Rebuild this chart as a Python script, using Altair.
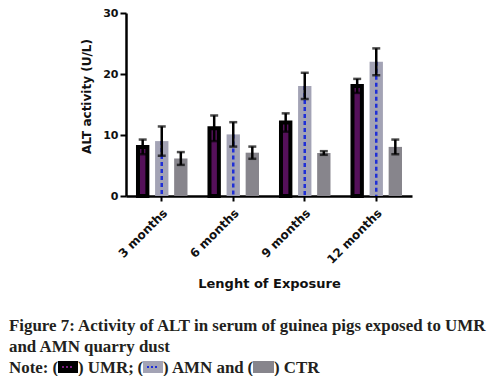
import altair as alt
import pandas as pd

months = ["3 months", "6 months", "9 months", "12 months"]
series = ["UMR", "AMN", "CTR"]
umr = [8.05, 11.1, 12.05, 18.05]
umr_err = [1.2, 2.1, 1.5, 1.15]
amn = [9.0, 10.1, 18.05, 22.0]
amn_err = [2.4, 2.0, 2.15, 2.2]
ctr = [6.15, 7.1, 7.05, 8.05]
ctr_err = [1.05, 1.0, 0.3, 1.2]

rows = []
for s, vals, errs in [("UMR", umr, umr_err), ("AMN", amn, amn_err), ("CTR", ctr, ctr_err)]:
    for m, v, e in zip(months, vals, errs):
        rows.append({"month": m, "series": s, "value": v, "lo": v - e, "hi": v + e})
df = pd.DataFrame(rows)

FONT = "DejaVu Sans"
SERIF = "Liberation Serif"
CAP_COLOR = "#231f20"

x_enc = alt.X("month:N", sort=months,
              scale=alt.Scale(paddingInner=0.2, paddingOuter=0.1),
              axis=alt.Axis(title="Lenght of Exposure", labelAngle=-45,
                            labelFont=FONT, labelFontWeight="bold", labelFontSize=12,
                            labelColor="#111", labelPadding=6,
                            titleFont=FONT, titleFontWeight="bold", titleFontSize=13,
                            titleColor="#111", titlePadding=12,
                            domainColor="#000", domainWidth=2.5,
                            tickColor="#000", tickWidth=2, tickSize=5))
xo_enc = alt.XOffset("series:N", sort=series,
                     scale=alt.Scale(domain=series, paddingInner=0.3, paddingOuter=0.15))
y_scale = alt.Scale(domain=[0, 30], nice=False)
y_axis = alt.Axis(title="ALT activity (U/L)", values=[0, 10, 20, 30], grid=False,
                  labelFont=FONT, labelFontWeight="bold", labelFontSize=11,
                  labelColor="#111", labelPadding=2,
                  titleFont=FONT, titleFontWeight="bold", titleFontSize=12,
                  titleColor="#111", titlePadding=9, titleY=83,
                  domainColor="#000", domainWidth=2.5,
                  tickColor="#000", tickWidth=2, tickSize=6)


def y_of(field):
    return alt.Y(field, type="quantitative", scale=y_scale, axis=y_axis)


base = alt.Chart(df)

other_bars = base.transform_filter(alt.datum.series != "UMR").mark_bar().encode(
    x=x_enc, xOffset=xo_enc, y=y_of("value"),
    color=alt.Color("series:N", scale=alt.Scale(domain=["AMN", "CTR"], range=["#a3a3b5", "#87858c"]),
                    legend=None))

umr_bars = base.transform_filter(alt.datum.series == "UMR").mark_bar(
    fill="#55105a", stroke="#000", strokeWidth=4, width=9.4
).encode(x=x_enc, xOffset=xo_enc, y=y_of("value"))

amn_dash = base.transform_filter(alt.datum.series == "AMN").mark_rule(
    color="#1f2fd6", strokeWidth=2.5, strokeDash=[4, 3]
).encode(x=x_enc, xOffset=xo_enc, y=y_of("value"), y2=alt.datum(0))

err_rule = base.mark_rule(color="#000", strokeWidth=2.5).encode(
    x=x_enc, xOffset=xo_enc, y=y_of("lo"), y2="hi:Q")
cap_hi = base.mark_tick(orient="horizontal", color="#000", size=8, thickness=2.5).encode(
    x=x_enc, xOffset=xo_enc, y=y_of("hi"))
cap_lo = base.mark_tick(orient="horizontal", color="#000", size=8, thickness=2.5).encode(
    x=x_enc, xOffset=xo_enc, y=y_of("lo"))

one = pd.DataFrame({"k": [0]})


def txt(s, x, y, align="left"):
    return alt.Chart(one).mark_text(text=s, font=SERIF, fontWeight="bold", fontSize=16.9,
                                    color=CAP_COLOR, align=align, baseline="alphabetic").encode(
        x=alt.value(x), y=alt.value(y))


def swatch(x1, x2, fill):
    return alt.Chart(one).mark_rect(fill=fill).encode(
        x=alt.value(x1), x2=alt.value(x2), y=alt.value(348), y2=alt.value(360))


def dashes(x1, x2, color):
    return alt.Chart(one).mark_rule(color=color, strokeWidth=2, strokeDash=[2, 2]).encode(
        x=alt.value(x1), x2=alt.value(x2), y=alt.value(354))


caption = [
    txt("Figure 7: Activity of ALT in serum of guinea pigs exposed to UMR", -117, 318),
    txt("and AMN quarry dust", -117, 339),
    txt("Note:", -117, 360),
    txt("(", -68, 360, "right"),
    swatch(-68, -48, "#000"),
    dashes(-64, -52, "#7a1f80"),
    txt(") UMR;", -48, 360),
    txt("(", 17, 360, "right"),
    swatch(17, 37, "#a3a3b5"),
    dashes(21, 33, "#1f2fd6"),
    txt(") AMN and", 37, 360),
    txt("(", 127, 360, "right"),
    swatch(127, 148, "#87858c"),
    txt(") CTR", 148, 360),
]

chart = alt.layer(other_bars, umr_bars, amn_dash, err_rule, cap_hi, cap_lo, *caption).properties(
    width=286, height=183,
    background="white",
    autosize=alt.AutoSizeParams(type="none"),
    padding={"left": 118, "top": 5, "right": 81, "bottom": 190},
).configure_view(stroke=None)

chart.save("out.html", embed_options={"renderer": "svg", "actions": False})
